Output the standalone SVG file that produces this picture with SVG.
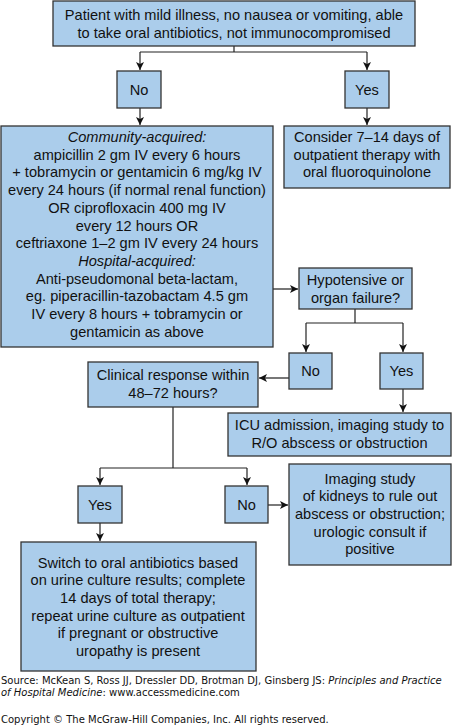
<svg xmlns="http://www.w3.org/2000/svg" width="455" height="727" viewBox="0 0 455 727">
<style>
.box{fill:#abcdeb;stroke:#333;stroke-width:1.3}
.t{font-family:"Liberation Sans",Arial,sans-serif;font-size:14.6px;fill:#111;text-anchor:middle}
.i{font-style:italic}
.ln{fill:none;stroke:#222;stroke-width:1.2}
.lg{fill:none;stroke:#555;stroke-width:1.6}
.f{font-family:"DejaVu Sans",Verdana,sans-serif;font-size:10px;fill:#111}
</style>
<defs>
<marker id="ah" markerWidth="10" markerHeight="10" refX="8" refY="4" orient="auto" markerUnits="userSpaceOnUse">
<path d="M0,0 L8,4 L0,8 L2,4 Z" fill="#111"/>
</marker>
</defs>
<g id="connectors">
<path class="ln" d="M234,46 V52 M140,52 H367" />
<path class="ln" d="M140,52 V70" marker-end="url(#ah)"/>
<path class="ln" d="M367,52 V70" marker-end="url(#ah)"/>
<path class="ln" d="M140,108 V125" marker-end="url(#ah)"/>
<path class="ln" d="M367,108 V125" marker-end="url(#ah)"/>
<path class="lg" d="M273,289 H298" marker-end="url(#ah)"/>
<path class="ln" d="M355,309 V323 M306,323 H403"/>
<path class="ln" d="M306,323 V352" marker-end="url(#ah)"/>
<path class="ln" d="M403,323 V352" marker-end="url(#ah)"/>
<path class="lg" d="M289,378 H259" marker-end="url(#ah)"/>
<path class="ln" d="M403,389 V412" marker-end="url(#ah)"/>
<path class="ln" d="M173,407 V468 M100,468 H247"/>
<path class="ln" d="M100,468 V485" marker-end="url(#ah)"/>
<path class="ln" d="M247,468 V485" marker-end="url(#ah)"/>
<path class="ln" d="M268,505 H288" marker-end="url(#ah)"/>
<path class="ln" d="M100,523 V541" marker-end="url(#ah)"/>
</g>
<g id="n-start">
<rect class="box" x="53" y="1" width="362" height="45"/>
<text class="t" x="234" y="20">Patient with mild illness, no nausea or vomiting, able</text>
<text class="t" x="234" y="38">to take oral antibiotics, not immunocompromised</text>
</g>
<g id="n-no1">
<rect class="box" x="117" y="71" width="44" height="37"/>
<text class="t" x="139" y="95">No</text>
</g>
<g id="n-yes1">
<rect class="box" x="345" y="71" width="44" height="37"/>
<text class="t" x="367" y="95">Yes</text>
</g>
<g id="n-iv">
<rect class="box" x="1" y="126" width="272" height="221"/>
<text class="t" x="137" y="142"><tspan class="i">Community-acquired:</tspan></text>
<text class="t" x="137" y="159.7">ampicillin 2 gm IV every 6 hours</text>
<text class="t" x="137" y="177.4">+ tobramycin or gentamicin 6 mg/kg IV</text>
<text class="t" x="137" y="195.1">every 24 hours (if normal renal function)</text>
<text class="t" x="137" y="212.8">OR ciprofloxacin 400 mg IV</text>
<text class="t" x="137" y="230.5">every 12 hours OR</text>
<text class="t" x="137" y="248.2">ceftriaxone 1–2 gm IV every 24 hours</text>
<text class="t i" x="137" y="265.9">Hospital-acquired:</text>
<text class="t" x="137" y="283.6">Anti-pseudomonal beta-lactam,</text>
<text class="t" x="137" y="301.3">eg. piperacillin-tazobactam 4.5 gm</text>
<text class="t" x="137" y="319">IV every 8 hours + tobramycin or</text>
<text class="t" x="137" y="336.7">gentamicin as above</text>
</g>
<g id="n-oral">
<rect class="box" x="284" y="126" width="166" height="62"/>
<text class="t" x="367" y="142">Consider 7–14 days of</text>
<text class="t" x="367" y="159.7">outpatient therapy with</text>
<text class="t" x="367" y="177.4">oral fluoroquinolone</text>
</g>
<g id="n-hypo">
<rect class="box" x="299" y="268" width="113" height="41"/>
<text class="t" x="355.5" y="285">Hypotensive or</text>
<text class="t" x="355.5" y="302.5">organ failure?</text>
</g>
<g id="n-no2">
<rect class="box" x="289" y="353" width="43" height="36"/>
<text class="t" x="310.5" y="376">No</text>
</g>
<g id="n-yes2">
<rect class="box" x="380" y="353" width="43" height="36"/>
<text class="t" x="401.5" y="376">Yes</text>
</g>
<g id="n-clin">
<rect class="box" x="88" y="362" width="170" height="45"/>
<text class="t" x="173" y="380">Clinical response within</text>
<text class="t" x="173" y="397.5">48–72 hours?</text>
</g>
<g id="n-icu">
<rect class="box" x="228" y="413" width="223" height="43"/>
<text class="t" x="339.5" y="430">ICU admission, imaging study to</text>
<text class="t" x="339.5" y="447.5">R/O abscess or obstruction</text>
</g>
<g id="n-yes3">
<rect class="box" x="78" y="486" width="44" height="37"/>
<text class="t" x="100" y="510">Yes</text>
</g>
<g id="n-no3">
<rect class="box" x="225" y="486" width="43" height="37"/>
<text class="t" x="246.5" y="510">No</text>
</g>
<g id="n-img">
<rect class="box" x="289" y="464" width="162" height="101"/>
<text class="t" x="370" y="483.5">Imaging study</text>
<text class="t" x="370" y="501.2">of kidneys to rule out</text>
<text class="t" x="370" y="518.9">abscess or obstruction;</text>
<text class="t" x="370" y="536.6">urologic consult if</text>
<text class="t" x="370" y="554.3">positive</text>
</g>
<g id="n-switch">
<rect class="box" x="21" y="542" width="235" height="129"/>
<text class="t" x="138" y="567.5">Switch to oral antibiotics based</text>
<text class="t" x="138" y="585.2">on urine culture results; complete</text>
<text class="t" x="138" y="602.9">14 days of total therapy;</text>
<text class="t" x="138" y="620.6">repeat urine culture as outpatient</text>
<text class="t" x="138" y="638.3">if pregnant or obstructive</text>
<text class="t" x="138" y="656">uropathy is present</text>
</g>
<g id="footer">
<text class="f" x="1" y="684">Source: McKean S, Ross JJ, Dressler DD, Brotman DJ, Ginsberg JS: <tspan font-style="italic">Principles and Practice</tspan></text>
<text class="f" x="1" y="695.5"><tspan font-style="italic">of Hospital Medicine</tspan>: www.accessmedicine.com</text>
<text class="f" x="1" y="723">Copyright © The McGraw-Hill Companies, Inc. All rights reserved.</text>
</g>
</svg>
